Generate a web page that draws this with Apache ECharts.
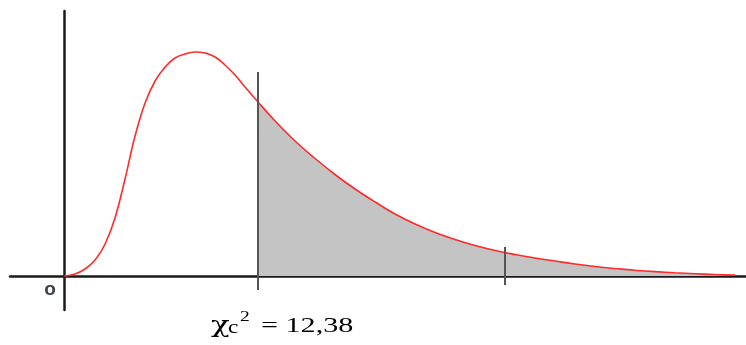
<!DOCTYPE html>
<html>
<head>
<meta charset="utf-8">
<script src="https://cdn.jsdelivr.net/npm/echarts@6/dist/echarts.min.js"></script>
<style>
  html, body { margin: 0; padding: 0; background: #fff; }
  #chart { width: 746px; height: 345px; }
</style>
</head>
<body>
<div id="chart"></div>
<script>
// chi-square style density (x in chi2 units, y in arbitrary height units)
var curveX = [0, 0.70, 1.34, 1.98, 2.62, 3.25, 3.89, 4.53, 5.17, 5.81, 6.45, 7.08, 7.72, 8.36, 9.00, 9.64,
              10.27, 10.91, 11.55, 12.38, 13.47, 14.74, 16.02, 17.29, 18.57, 19.85, 21.12, 22.40, 23.68, 24.95,
              26.23, 27.51, 28.78, 30.06, 31.33, 32.61, 33.89, 35.16, 36.44, 37.72, 38.99, 40.27, 41.54, 42.82];
var curveY = [0, 0.002, 0.007, 0.016, 0.032, 0.058, 0.097, 0.140, 0.173, 0.195, 0.209, 0.218, 0.222, 0.224, 0.223, 0.219,
              0.211, 0.201, 0.189, 0.174, 0.155, 0.135, 0.1175, 0.1015, 0.087, 0.074, 0.062, 0.052, 0.0435, 0.0365,
              0.0305, 0.0255, 0.0215, 0.018, 0.015, 0.012, 0.0095, 0.0075, 0.0058, 0.0044, 0.0032, 0.0023, 0.0015, 0.0009];

var critical = 12.38;      // start of shaded region
var secondMark = 28.14;    // short tick on the tail
var markTop = [0.204, 0.029];
var markBottom = [-0.014, -0.009];

var xMin = -3.45, xMax = 43.52;
var yMin = -0.034, yMax = 0.265;

var curve = [];
var tail = [];
for (var i = 0; i < curveX.length; i++) {
    curve.push([curveX[i], curveY[i]]);
    if (curveX[i] >= critical) tail.push([curveX[i], curveY[i]]);
}

var myChart = echarts.init(document.getElementById('chart'));
var option = {
    animation: false,
    grid: { left: 10, right: 0, top: 11, bottom: 35 },
    xAxis: {
        type: 'value', min: xMin, max: xMax,
        axisLine: { onZero: true, lineStyle: { color: '#1a1a1a', width: 2.5 } },
        axisTick: { show: false }, axisLabel: { show: false }, splitLine: { show: false }
    },
    yAxis: {
        type: 'value', min: yMin, max: yMax,
        axisLine: { show: true, onZero: true, lineStyle: { color: '#1a1a1a', width: 2.5 } },
        axisTick: { show: false }, axisLabel: { show: false }, splitLine: { show: false }
    },
    series: [
        {
            type: 'line',
            data: tail,
            smooth: 0.4,
            showSymbol: false,
            lineStyle: { width: 0 },
            areaStyle: { color: '#c4c4c4', opacity: 1 },
            z: 1,
            markLine: {
                silent: true,
                symbol: ['none', 'none'],
                label: { show: false },
                lineStyle: { color: '#555', width: 2, type: 'solid' },
                data: [
                    [{ coord: [critical, markTop[0]] }, { coord: [critical, markBottom[0]] }],
                    [{ coord: [secondMark, markTop[1]] }, { coord: [secondMark, markBottom[1]] }]
                ]
            }
        },
        {
            type: 'line',
            data: curve,
            smooth: 0.4,
            showSymbol: false,
            lineStyle: { color: '#ff2a2a', width: 1.6 },
            z: 3
        }
    ],
    graphic: [
        {
            type: 'text', x: 50, y: 290,
            style: { text: 'o', font: 'bold 19px "Liberation Sans", Arial', fill: '#3a3f4a', align: 'center', verticalAlign: 'middle' }
        },
        {
            type: 'text', x: 283, y: 243, scaleX: 1.25,
            style: { text: 'R. Aceptación', font: '17px "Liberation Sans", Arial', fill: '#2f3440', align: 'left', verticalAlign: 'middle' }
        },
        {
            type: 'text', x: 211, y: 326, scaleX: 1.4,
            style: { text: 'χ', font: '22px "DejaVu Serif", "Liberation Serif", serif', fill: '#000', align: 'left', verticalAlign: 'middle' }
        },
        {
            type: 'text', x: 228, y: 328.5, scaleX: 1.3,
            style: { text: 'c', font: '18px "Liberation Serif", "Times New Roman", serif', fill: '#000', align: 'left', verticalAlign: 'middle' }
        },
        {
            type: 'text', x: 240, y: 317.5, scaleX: 1.3,
            style: { text: '2', font: '15px "Liberation Serif", "Times New Roman", serif', fill: '#000', align: 'left', verticalAlign: 'middle' }
        },
        {
            type: 'text', x: 261, y: 326.3, scaleX: 1.37,
            style: { text: '= 12,38', font: '22px "Liberation Serif", "Times New Roman", serif', fill: '#000', align: 'left', verticalAlign: 'middle' }
        }
    ]
};
myChart.setOption(option);
</script>
</body>
</html>
